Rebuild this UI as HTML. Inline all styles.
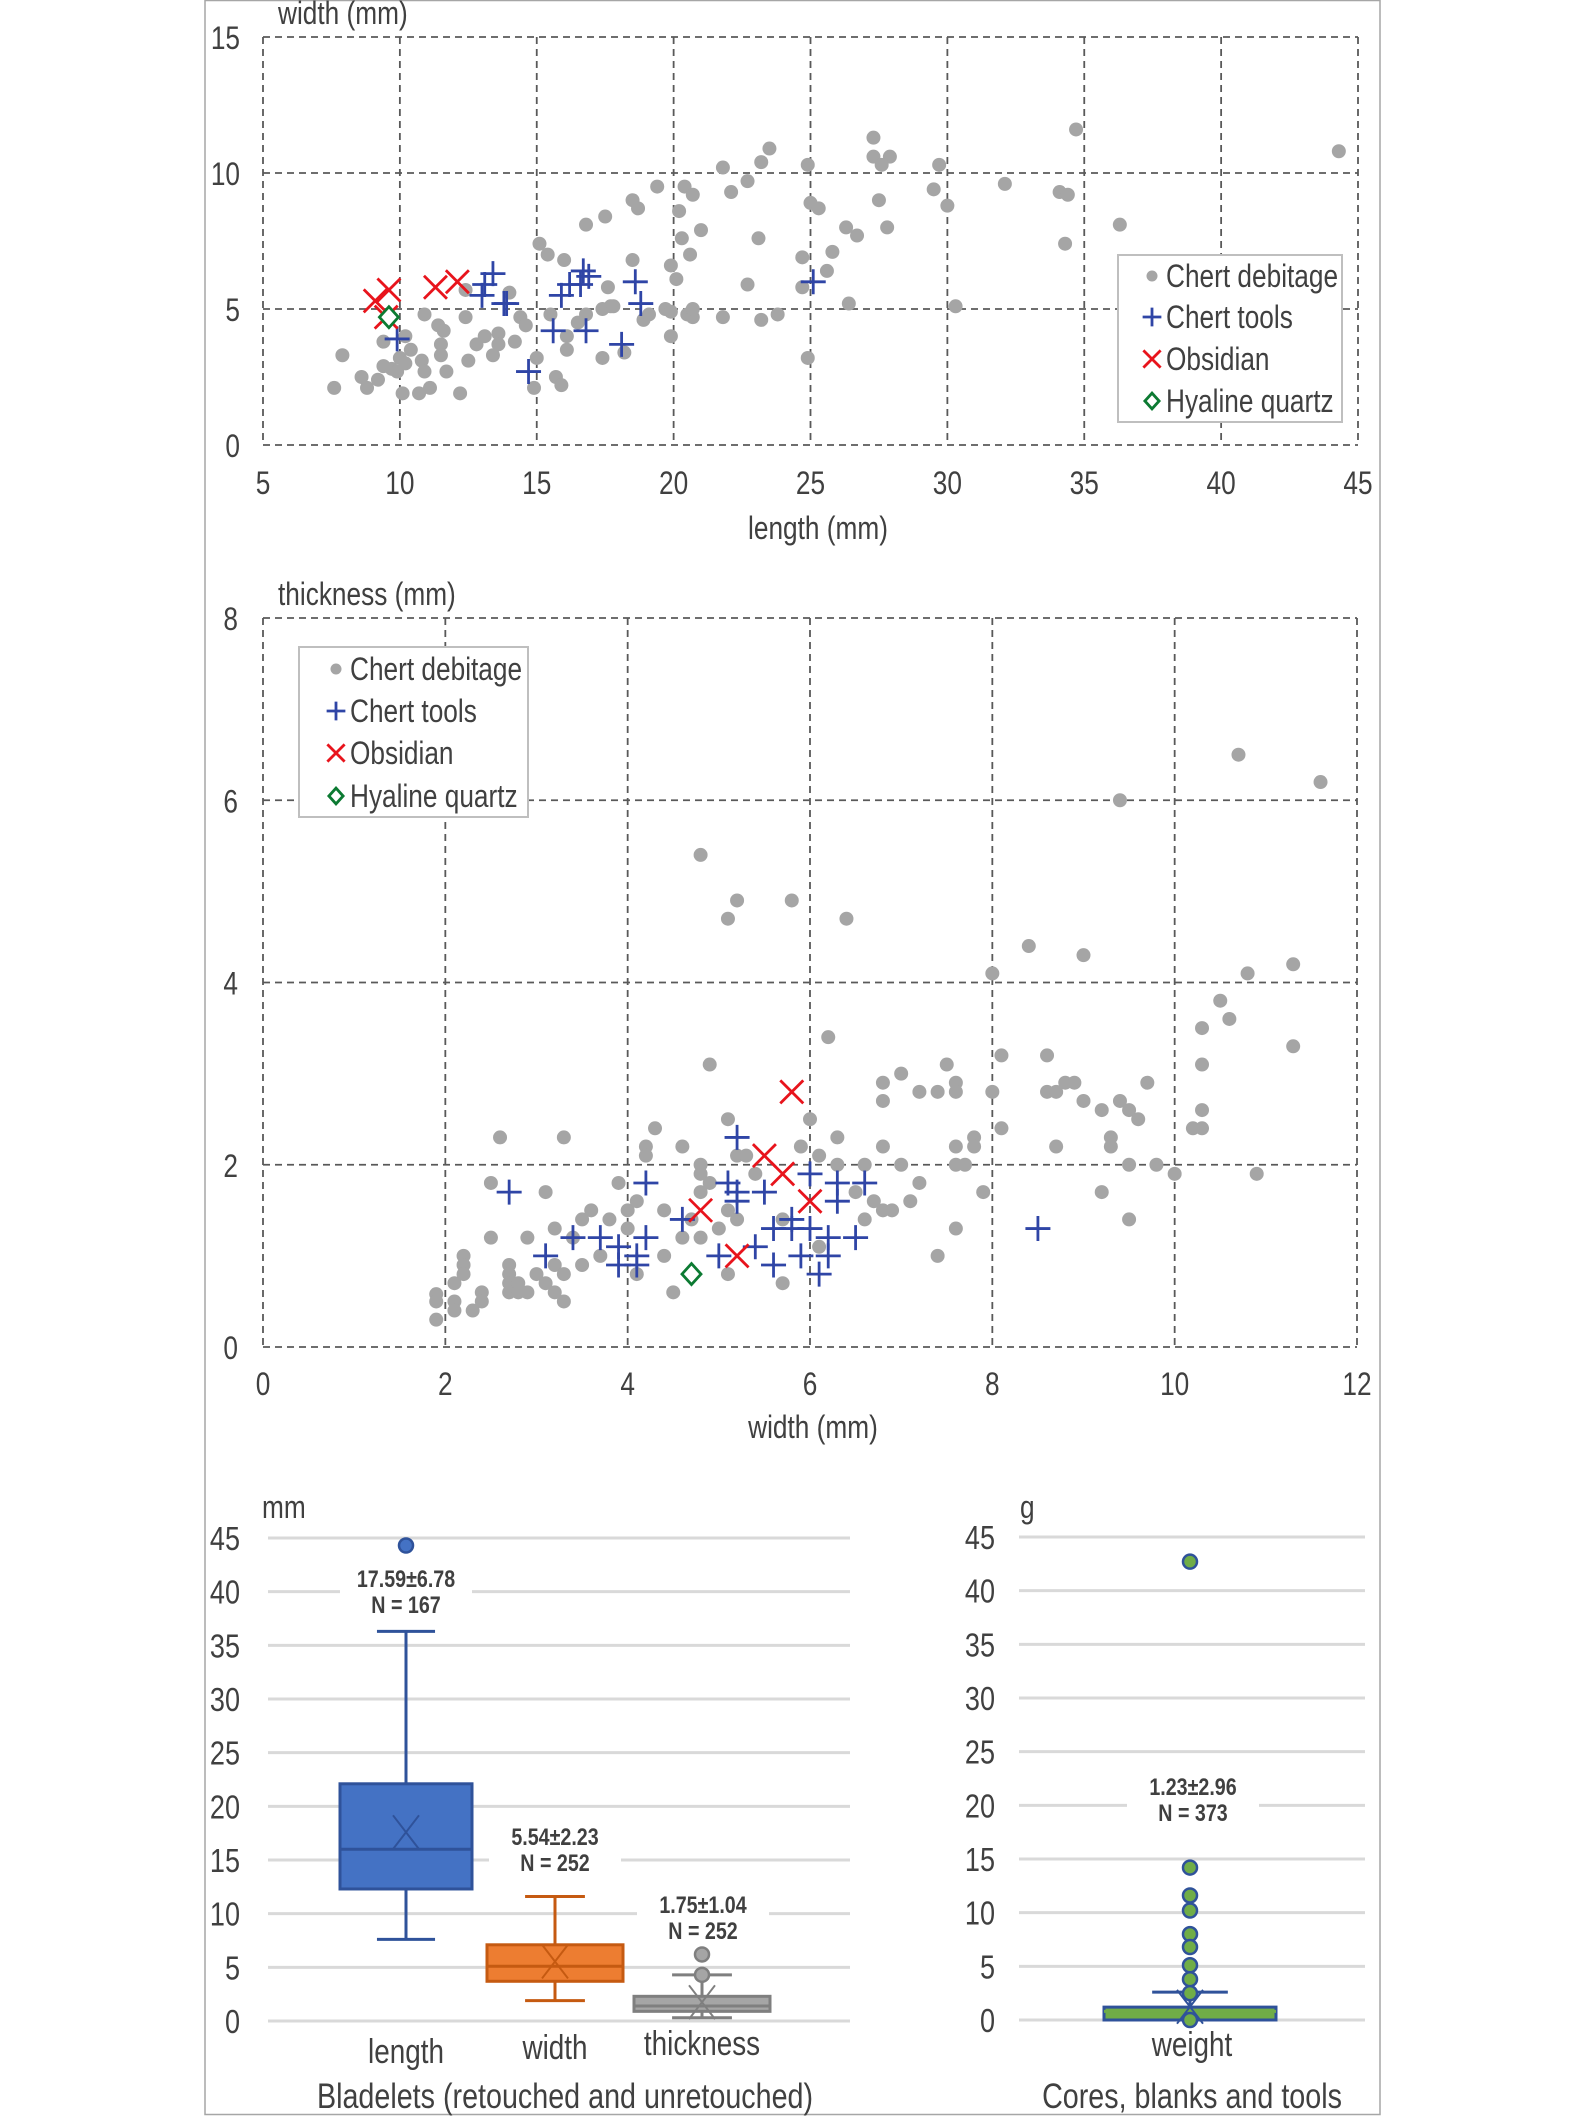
<!DOCTYPE html>
<html><head><meta charset="utf-8">
<style>
html,body{margin:0;padding:0;background:#fff;}
svg{display:block;}
text{font-family:"Liberation Sans Narrow","Liberation Sans",sans-serif;fill:#404040;}
.b{font-family:"Liberation Sans",sans-serif;font-weight:bold;}
</style></head>
<body>
<svg id="s" width="1583" height="2116" viewBox="0 0 1583 2116" xmlns="http://www.w3.org/2000/svg">
<rect x="205" y="0.5" width="1175" height="2114" fill="none" stroke="#a6a6a6" stroke-width="1.5"/>
<g id="c1"></g>
<g id="c2"></g>
<g id="c3"></g>
<g id="c4"></g>
</svg>
<script>
// ---------- Chart 1 data: length vs width ----------
const c1DebX=[7.6,7.9,8.6,8.8,9.2,9.4,9.4,9.7,9.9,10.0,10.1,10.2,10.2,10.4,10.7,10.8,10.9,10.9,11.1,11.4,11.5,11.6,11.5,11.7,12.2,12.4,12.4,12.5,12.8,13.1,13.4,13.6,13.6,14.0,14.2,14.4,14.6,15.0,14.9,15.1,15.4,15.5,15.7,15.9,16.0,16.1,16.1,16.5,16.8,16.8,17.4,17.5,17.6,17.4,17.7,17.8,18.2,18.5,18.5,18.7,18.9,19.1,19.4,19.7,19.9,19.9,19.9,20.1,20.2,20.3,20.4,20.6,20.7,20.5,20.7,20.7,21.0,21.8,21.8,22.1,22.7,22.7,23.1,23.2,23.2,23.5,23.8,24.7,24.7,24.9,24.9,25.0,25.3,25.6,25.8,26.3,26.4,26.7,27.3,27.3,27.9,27.6,27.5,27.8,29.5,29.7,30.0,30.3,32.1,34.1,34.4,34.3,34.7,36.3,44.3];
const c1DebY=[2.1,3.3,2.5,2.1,2.4,3.8,2.9,2.8,2.7,3.2,1.9,4.0,3.0,3.5,1.9,3.1,2.7,4.8,2.1,4.4,3.7,4.2,3.3,2.7,1.9,4.7,5.7,3.1,3.7,4.0,3.3,4.1,3.7,5.6,3.8,4.7,4.4,3.2,2.1,7.4,7.0,4.8,2.5,2.2,6.8,4.0,3.5,4.5,8.1,4.8,3.2,8.4,5.8,5.0,5.1,5.1,3.4,9.0,6.8,8.7,4.6,4.8,9.5,5.0,4.0,4.9,6.6,6.1,8.6,7.6,9.5,7.0,9.2,4.8,4.7,5.0,7.9,10.2,4.7,9.3,5.9,9.7,7.6,4.6,10.4,10.9,4.8,5.8,6.9,10.3,3.2,8.9,8.7,6.4,7.1,8.0,5.2,7.7,11.3,10.6,10.6,10.3,9.0,8.0,9.4,10.3,8.8,5.1,9.6,9.3,9.2,7.4,11.6,8.1,10.8];
const c1ToolX=[9.9,13.4,13.1,13.0,13.8,13.9,14.7,15.6,15.9,16.2,16.7,16.6,16.9,16.8,18.1,18.6,18.8,25.1];
const c1ToolY=[3.9,6.3,5.9,5.5,5.2,5.2,2.7,4.2,5.5,5.9,6.4,5.9,6.2,4.2,3.7,6.0,5.2,6.0];
const c1ObsX=[9.1,9.6,9.5,11.3,12.1];
const c1ObsY=[5.3,5.7,4.7,5.8,6.0];
const c1QtzX=[9.6];
const c1QtzY=[4.7];
const c1XTicks=[5,10,15,20,25,30,35,40,45];
const c1YTicks=[0,5,10,15];

// ---------- Chart 2 data: width vs thickness ----------
const c2DebX=[1.9,1.9,1.9,2.1,2.1,2.1,2.2,2.2,2.2,2.3,2.4,2.4,2.5,2.5,2.6,2.7,2.7,2.7,2.7,2.8,2.8,2.9,2.9,3.0,3.1,3.1,3.2,3.2,3.2,3.3,3.3,3.3,3.4,3.5,3.5,3.6,3.7,3.8,3.9,4.0,4.0,4.1,4.1,4.2,4.2,4.3,4.4,4.4,4.5,4.6,4.6,4.7,4.8,4.8,4.8,4.8,4.8,4.9,4.9,5.0,5.1,5.1,5.1,5.1,5.2,5.2,5.2,5.3,5.4,5.7,5.7,5.8,5.9,6.0,6.1,6.1,6.2,6.3,6.3,6.4,6.5,6.6,6.6,6.7,6.8,6.8,6.8,6.8,6.9,7.0,7.0,7.1,7.2,7.2,7.4,7.4,7.5,7.6,7.6,7.6,7.6,7.6,7.7,7.8,7.8,7.9,8.0,8.0,8.1,8.1,8.4,8.6,8.6,8.7,8.7,8.8,8.9,9.0,9.0,9.2,9.2,9.3,9.3,9.4,9.4,9.5,9.5,9.5,9.6,9.7,9.8,10.0,10.2,10.3,10.3,10.3,10.3,10.5,10.6,10.7,10.8,10.9,11.3,11.3,11.6];
const c2DebY=[0.58,0.5,0.3,0.7,0.5,0.4,1.0,0.9,0.8,0.4,0.6,0.5,1.2,1.8,2.3,0.9,0.8,0.7,0.6,0.7,0.6,1.2,0.6,0.8,1.7,0.7,1.3,0.9,0.6,2.3,0.8,0.5,1.2,1.4,0.9,1.5,1.0,1.4,1.8,1.3,1.5,1.6,0.8,2.2,2.1,2.4,1.5,1.0,0.6,2.2,1.2,1.4,2.0,1.9,1.7,1.2,5.4,1.8,3.1,1.3,2.5,1.5,0.8,4.7,4.9,2.1,1.4,2.1,1.9,0.7,1.4,4.9,2.2,2.5,2.1,1.1,3.4,2.3,2.0,4.7,1.7,2.0,1.4,1.6,2.2,2.7,2.9,1.5,1.5,2.0,3.0,1.6,2.8,1.8,2.8,1.0,3.1,2.9,2.8,2.2,2.0,1.3,2.0,2.3,2.2,1.7,4.1,2.8,3.2,2.4,4.4,3.2,2.8,2.8,2.2,2.9,2.9,4.3,2.7,2.6,1.7,2.3,2.2,6.0,2.7,2.6,2.0,1.4,2.5,2.9,2.0,1.9,2.4,2.4,2.6,3.1,3.5,3.8,3.6,6.5,4.1,1.9,4.2,3.3,6.2];
const c2ToolX=[2.7,3.1,3.4,3.7,3.9,3.9,4.1,4.1,4.2,4.2,4.6,5.0,5.1,5.2,5.2,5.2,5.4,5.5,5.6,5.6,5.8,5.8,5.9,6.0,6.0,6.1,6.2,6.2,6.3,6.3,6.5,6.6,8.5];
const c2ToolY=[1.7,1.0,1.2,1.2,1.1,0.9,1.0,0.9,1.2,1.8,1.4,1.0,1.8,2.3,1.7,1.6,1.1,1.7,0.9,1.3,1.4,1.3,1.0,1.9,1.3,0.8,1.0,1.2,1.8,1.6,1.2,1.8,1.3];
const c2ObsX=[4.8,5.2,5.5,5.7,5.8,6.0];
const c2ObsY=[1.5,1.0,2.1,1.9,2.8,1.6];
const c2QtzX=[4.7];
const c2QtzY=[0.8];
const c2XTicks=[0,2,4,6,8,10,12];
const c2YTicks=[0,2,4,6,8];

// ---------- Box plot data ----------
const bpCats=["length","width","thickness"];
const bpMin=[7.6,1.9,0.3];
const bpQ1=[12.3,3.7,0.9];
const bpMed=[16.0,5.1,1.4];
const bpQ3=[22.1,7.1,2.3];
const bpMax=[36.3,11.6,4.3];
const bpMean=[17.59,5.54,1.75];
const bpOutliers=[[44.3],[],[4.3,6.2]];
const bpLabel1=["17.59\u00b16.78","5.54\u00b12.23","1.75\u00b11.04"];
const bpLabel2=["N = 167","N = 252","N = 252"];
const bpTicks=[0,5,10,15,20,25,30,35,40,45];
const wMin=[0];
const wQ1=[0];
const wMed=[0.8];
const wQ3=[1.2];
const wMax=[2.6];
const wMean=[1.23];
const wOutliers=[42.7,14.2,11.6,10.2,8.0,6.8,5.1,3.8,2.5,0];

const NS="http://www.w3.org/2000/svg";
const SQ=0.82;
function mk(parent,tag,attrs,txt){const e=document.createElementNS(NS,tag);for(const k in attrs)e.setAttribute(k,attrs[k]);if(txt!==undefined)e.textContent=txt;parent.appendChild(e);return e;}
function nt(parent,x,y,anchor,size,content,cls){
  const a={x:0,y:0,"text-anchor":anchor,"font-size":size,transform:`translate(${x},${y}) scale(${SQ},1)`};
  if(cls)a["class"]=cls;
  return mk(parent,"text",a,content);
}
const GRAY="#a5a5a5",BLUE="#2f45a6",RED="#e8141c",GREEN="#0c7a32",GRID="#595959";

function marker(g,type,x,y,s){
  let e;
  if(type==="dot"){e=mk(g,"circle",{cx:x,cy:y,r:7*s,fill:GRAY});}
  else if(type==="plus"){e=mk(g,"path",{d:`M${x-12.5*s},${y}H${x+12.5*s}M${x},${y-12.5*s}V${y+12.5*s}`,stroke:BLUE,"stroke-width":2.8,fill:"none"});}
  else if(type==="x"){e=mk(g,"path",{d:`M${x-11.5*s},${y-11.5*s}L${x+11.5*s},${y+11.5*s}M${x-11.5*s},${y+11.5*s}L${x+11.5*s},${y-11.5*s}`,stroke:RED,"stroke-width":2.8,fill:"none"});}
  else {e=mk(g,"path",{d:`M${x},${y-10.5*s}L${x+9.5*s},${y}L${x},${y+10.5*s}L${x-9.5*s},${y}Z`,stroke:GREEN,"stroke-width":2.8,fill:"#fff"});}
  return e;
}

function scatter(gid,cfg){
  const g=document.getElementById(gid);
  const sx=v=>cfg.x0+(v-cfg.xmin)/(cfg.xmax-cfg.xmin)*(cfg.x1-cfg.x0);
  const sy=v=>cfg.y0-(v-cfg.ymin)/(cfg.ymax-cfg.ymin)*(cfg.y0-cfg.y1);
  cfg.xTicks.forEach(t=>{
    const l=mk(g,"line",{x1:sx(t),x2:sx(t),y1:cfg.y1,y2:cfg.y0,stroke:GRID,"stroke-width":1.8,"stroke-dasharray":"7,5"});
    
    
    const tx=nt(g,sx(t),cfg.xTickY,"middle",32,t);
    
    
  });
  cfg.yTicks.forEach(t=>{
    const l=mk(g,"line",{x1:cfg.x0,x2:cfg.x1,y1:sy(t),y2:sy(t),stroke:GRID,"stroke-width":1.8,"stroke-dasharray":"7,5"});
    
    
    const tx=nt(g,cfg.yTickX,sy(t)+12,"end",32,t);
    
    
  });
  const yt=nt(g,cfg.yTitleX,cfg.yTitleY,"start",32,cfg.yTitle);
  
  
  const xt=nt(g,cfg.xTitleX,cfg.xTitleY,"middle",32,cfg.xTitle);
  
  
  const series=[["dot",cfg.debX,cfg.debY,"debitage-point"],["plus",cfg.toolX,cfg.toolY,"tool-point"],["x",cfg.obsX,cfg.obsY,"obsidian-point"],["dia",cfg.qtzX,cfg.qtzY,"quartz-point"]];
  series.forEach(([t,xs,ys,nm])=>{xs.forEach((v,i)=>{
    const e=marker(g,t,sx(v),sy(ys[i]),1);
    
    
  });});
  const L=cfg.leg;
  const lg=mk(g,"g",{});
  
  
  mk(lg,"rect",{x:L.x,y:L.y,width:L.w,height:L.h,fill:"#fff",stroke:"#bfbfbf","stroke-width":2});
  const names=["Chert debitage","Chert tools","Obsidian","Hyaline quartz"];
  const types=["dot","plus","x","dia"];
  names.forEach((n,i)=>{
    const ey=L.ey[i];
    const ent=mk(lg,"g",{});
    
    
    if(types[i]==="dot") mk(ent,"circle",{cx:L.mx,cy:ey,r:5.5,fill:GRAY});
    else marker(ent,types[i],L.mx,ey,0.75);
    nt(ent,L.tx,ey+11,"start",32,n);
  });
}

scatter("c1",{x0:263,x1:1358,xmin:5,xmax:45,y0:445,y1:37,ymin:0,ymax:15,xTicks:c1XTicks,yTicks:c1YTicks,xTickY:494,yTickX:240,
  yTitle:"width (mm)",yTitleX:278,yTitleY:24,xTitle:"length (mm)",xTitleX:818,xTitleY:539,
  debX:c1DebX,debY:c1DebY,toolX:c1ToolX,toolY:c1ToolY,obsX:c1ObsX,obsY:c1ObsY,qtzX:c1QtzX,qtzY:c1QtzY,
  leg:{x:1118,y:255,w:224,h:167,mx:1152,tx:1166,ey:[276,317,359,401]}});
scatter("c2",{x0:263,x1:1357,xmin:0,xmax:12,y0:1347,y1:618,ymin:0,ymax:8,xTicks:c2XTicks,yTicks:c2YTicks,xTickY:1395,yTickX:238,
  yTitle:"thickness (mm)",yTitleX:278,yTitleY:605,xTitle:"width (mm)",xTitleX:813,xTitleY:1438,
  debX:c2DebX,debY:c2DebY,toolX:c2ToolX,toolY:c2ToolY,obsX:c2ObsX,obsY:c2ObsY,qtzX:c2QtzX,qtzY:c2QtzY,
  leg:{x:299,y:647,w:229,h:170,mx:336,tx:350,ey:[669,711,753,796]}});

function boxAxis(g,x0,x1,y0,y1,tickX){
  const sy=v=>y0-v/45*(y0-y1);
  bpTicks.forEach(t=>{
    const l=mk(g,"line",{x1:x0,x2:x1,y1:sy(t),y2:sy(t),stroke:"#d9d9d9","stroke-width":3});
    
    
    const tx=nt(g,tickX,sy(t)+12,"end",33,t);
    
    
  });
  return sy;
}
function drawBox(g,sy,cx,w,mn,q1,md,q3,mx,mean,outs,fill,stroke,medStroke,outFill,outStroke,nm){
  const bg=mk(g,"g",{});
  
  
  const cap=w*0.22;
  mk(bg,"line",{x1:cx,x2:cx,y1:sy(q3),y2:sy(mx),stroke:stroke,"stroke-width":3});
  mk(bg,"line",{x1:cx,x2:cx,y1:sy(q1),y2:sy(mn),stroke:stroke,"stroke-width":3});
  mk(bg,"line",{x1:cx-cap,x2:cx+cap,y1:sy(mx),y2:sy(mx),stroke:stroke,"stroke-width":3});
  mk(bg,"line",{x1:cx-cap,x2:cx+cap,y1:sy(mn),y2:sy(mn),stroke:stroke,"stroke-width":3});
  mk(bg,"rect",{x:cx-w/2,y:sy(q3),width:w,height:Math.max(sy(q1)-sy(q3),1),fill:fill,stroke:stroke,"stroke-width":3});
  mk(bg,"line",{x1:cx-w/2,x2:cx+w/2,y1:sy(md),y2:sy(md),stroke:medStroke,"stroke-width":3});
  const m=sy(mean),d=13;
  mk(bg,"path",{d:`M${cx-d},${m-d*1.3}L${cx+d},${m+d*1.3}M${cx-d},${m+d*1.3}L${cx+d},${m-d*1.3}`,stroke:stroke,"stroke-width":2,fill:"none"});
  outs.forEach(o=>{
    const c=mk(bg,"circle",{cx:cx,cy:sy(o),r:7,fill:outFill,stroke:outStroke,"stroke-width":2.5});
    
    
  });
}
function annot(g,cx,y,l1,l2){
  mk(g,"rect",{x:cx-66,y:y-21,width:132,height:50,fill:"#fff"});
  const a=nt(g,cx,y,"middle",24,l1,"b");
  
  
  const b=nt(g,cx,y+26,"middle",24,l2,"b");
  
  
}
(function(){
  const g=document.getElementById("c3");
  const sy=boxAxis(g,268,850,2021,1538,240);
  const cxs=[406,555,702],w=[132,136,136];
  const fills=["#4472c4","#ed7d31","#a5a5a5"],strokes=["#2f529a","#c55a11","#7f7f7f"],outF=["#4472c4","#ed7d31","#a5a5a5"];
  bpCats.forEach((c,i)=>{
    drawBox(g,sy,cxs[i],w[i],bpMin[i],bpQ1[i],bpMed[i],bpQ3[i],bpMax[i],bpMean[i],bpOutliers[i],fills[i],strokes[i],strokes[i],outF[i],strokes[i],'box-'+c);
    const t=nt(g,cxs[i],[2063,2059,2055][i],"middle",34,c);
    
    
  });
  annot(g,406,1587,bpLabel1[0],bpLabel2[0]);
  annot(g,555,1845,bpLabel1[1],bpLabel2[1]);
  annot(g,703,1913,bpLabel1[2],bpLabel2[2]);
  const u=nt(g,262,1518,"start",32,"mm");
  
  
  const ft=nt(g,565,2108,"middle",35,"Bladelets (retouched and unretouched)");
  
  
})();
(function(){
  const g=document.getElementById("c4");
  const sy=boxAxis(g,1019,1365,2020,1537,995);
  drawBox(g,sy,1190,172,wMin[0],wQ1[0],wMed[0],wQ3[0],wMax[0],wMean[0],wOutliers,"#70ad47","#2f529a","#70ad47","#70ad47","#2f529a",'box-weight');
  annot(g,1193,1795,"1.23\u00b12.96","N = 373");
  const t=nt(g,1192,2056,"middle",34,"weight");
  
  
  const u=nt(g,1020,1518,"start",32,"g");
  
  
  const ft=nt(g,1192,2108,"middle",35,"Cores, blanks and tools");
  
  
})();
</script>
</body></html>
